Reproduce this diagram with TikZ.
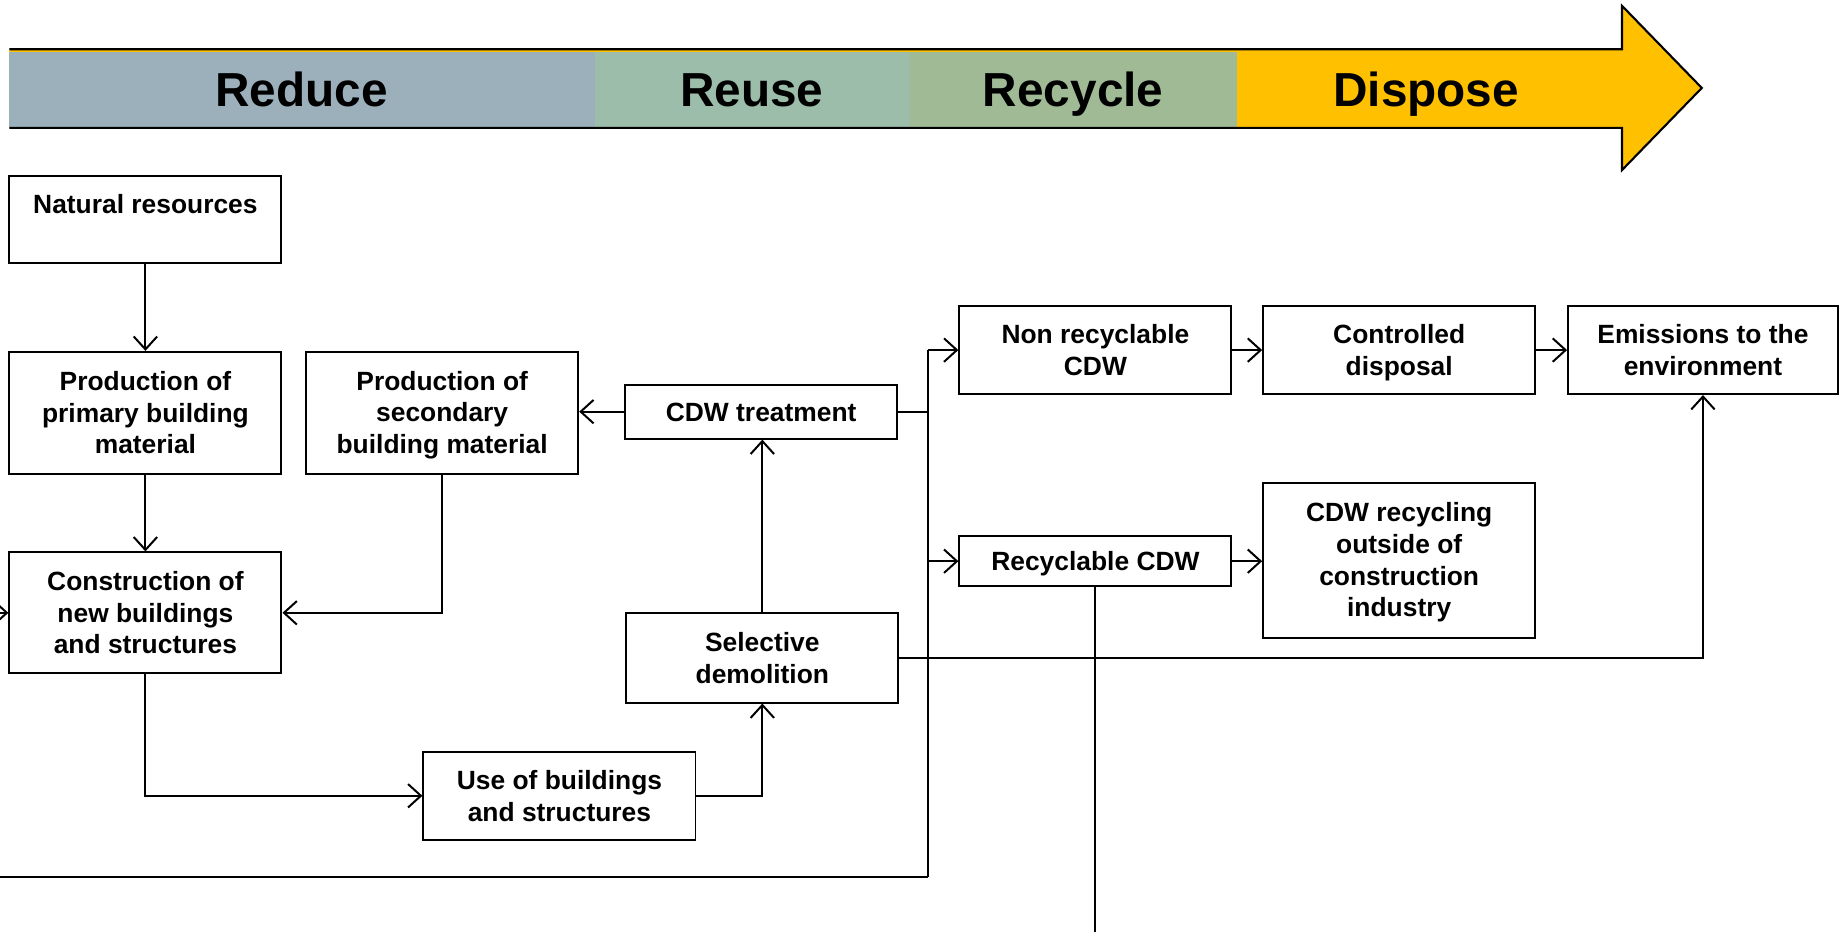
\documentclass[tikz,border=0pt]{standalone}
\usepackage{fontspec}
\setmainfont{Liberation Sans}
\usetikzlibrary{arrows.meta}
\definecolor{cReduce}{RGB}{155,176,187}
\definecolor{cReuse}{RGB}{155,189,170}
\definecolor{cRecycle}{RGB}{161,186,150}
\definecolor{cDispose}{RGB}{255,192,0}
\tikzset{
  box/.style={draw=black, line width=1.7pt, minimum width=232pt, inner sep=0pt, align=center,
    font=\fontsize{22.5}{27}\selectfont\bfseries},
  boxtext/.style={inner sep=0pt, align=center, font=\fontsize{22.5}{27}\selectfont\bfseries},
  conn/.style={line width=1.7pt},
  arr/.style={conn, -{Straight Barb[length=11pt,width=20pt]}},
  head/.style={inner sep=0pt, anchor=base, font=\fontsize{40.7}{44}\selectfont\bfseries},
}
\begin{document}
\begin{tikzpicture}[x=1pt,y=-1pt]
\useasboundingbox (0,0) rectangle (1568,794);
% header arrow
\fill[cDispose] (8,42) -- (1383,42) -- (1383,5) -- (1451,75) -- (1383,145) -- (1383,109) -- (8,109) -- cycle;
\fill[cReduce] (8,44.5) rectangle (507,108);
\fill[cReuse] (507,44.5) rectangle (776,108);
\fill[cRecycle] (776,44.5) rectangle (1055,108);
\draw[line width=1.8pt, line join=miter] (8,42) -- (1383,42) -- (1383,5) -- (1451,75) -- (1383,145) -- (1383,109) -- (8,109);
\node[head] (hreduce) at (257,91) {Reduce};
\node[head] (hreuse) at (641,91) {Reuse};
\node[head] (hrecycle) at (915,91) {Recycle};
\node[head] (hdispose) at (1216,91) {Dispose};
% boxes
\node[box, minimum height=74pt] (nr) at (124,187) {};
\node[boxtext] (nrt) at (124,174) {Natural resources};
\node[box, minimum height=104pt] (prim) at (124,352) {Production of\\primary building\\material};
\node[box, minimum height=104pt] (sec) at (377,352) {};
\node[boxtext] (sect) at (377,354) {Production of\\secondary\\building material};
\node[box, minimum height=46pt] (treat) at (649,351) {};
\node[boxtext] (treatt) at (649,352) {CDW treatment};
\node[box, minimum height=103pt] (cons) at (124,522.5) {Construction of\\new buildings\\and structures};
\node[box, minimum height=76pt] (sel) at (650,561) {Selective\\demolition};
\node[box, minimum height=75pt] (use) at (477,678.5) {Use of buildings\\and structures};
\node[box, minimum height=75pt] (nonrec) at (934,298.5) {Non recyclable\\CDW};
\node[box, minimum height=75pt] (ctrl) at (1193,298.5) {};
\node[boxtext] (ctrlt) at (1193,300.5) {Controlled\\disposal};
\node[box, minimum height=75pt, minimum width=230pt] (emis) at (1452,298.5) {Emissions to the\\environment};
\node[box, minimum height=43pt] (rec) at (934,478.5) {};
\node[boxtext] (rect) at (934,480.5) {Recyclable CDW};
\node[box, minimum height=132pt] (cdwr) at (1193,478) {};
\node[boxtext] (cdwrt) at (1193,479.5) {CDW recycling\\outside of\\construction\\industry};
% coordinates
\coordinate (bt) at (791,298.5);
\coordinate (bb) at (791,748);
\coordinate (far) at (-30,748);
\coordinate (recend) at (934,830);
% connectors
\draw[arr] (nr.south) -- (prim.north);
\draw[arr] (prim.south) -- (cons.north);
\draw[arr] (sec.south) |- (cons.east);
\draw[arr] (treat.west) -- (treat.west -| sec.east);
\draw[arr] (sel.north) -- (treat.south -| sel.north);
\draw[arr] (cons.south) |- (use.west);
\draw[arr] (use.east) -| (sel.south);
\draw[arr] (nonrec.east) -- (ctrl.west);
\draw[arr] (ctrl.east) -- (emis.west);
\draw[arr] (rec.east) -- (rec.east -| cdwr.west);
\draw[conn] (treat.east) -- (treat.east -| bt);
\draw[conn] (bt) -- (bb);
\draw[arr] (bt) -- (nonrec.west);
\draw[arr] (rec.west -| bt) -- (rec.west);
\draw[arr] (bb) -- (far) |- (cons.west);
\draw[arr] (sel.east) -| (emis.south);
\draw[conn] (rec.south) -- (recend);
\end{tikzpicture}
\end{document}
